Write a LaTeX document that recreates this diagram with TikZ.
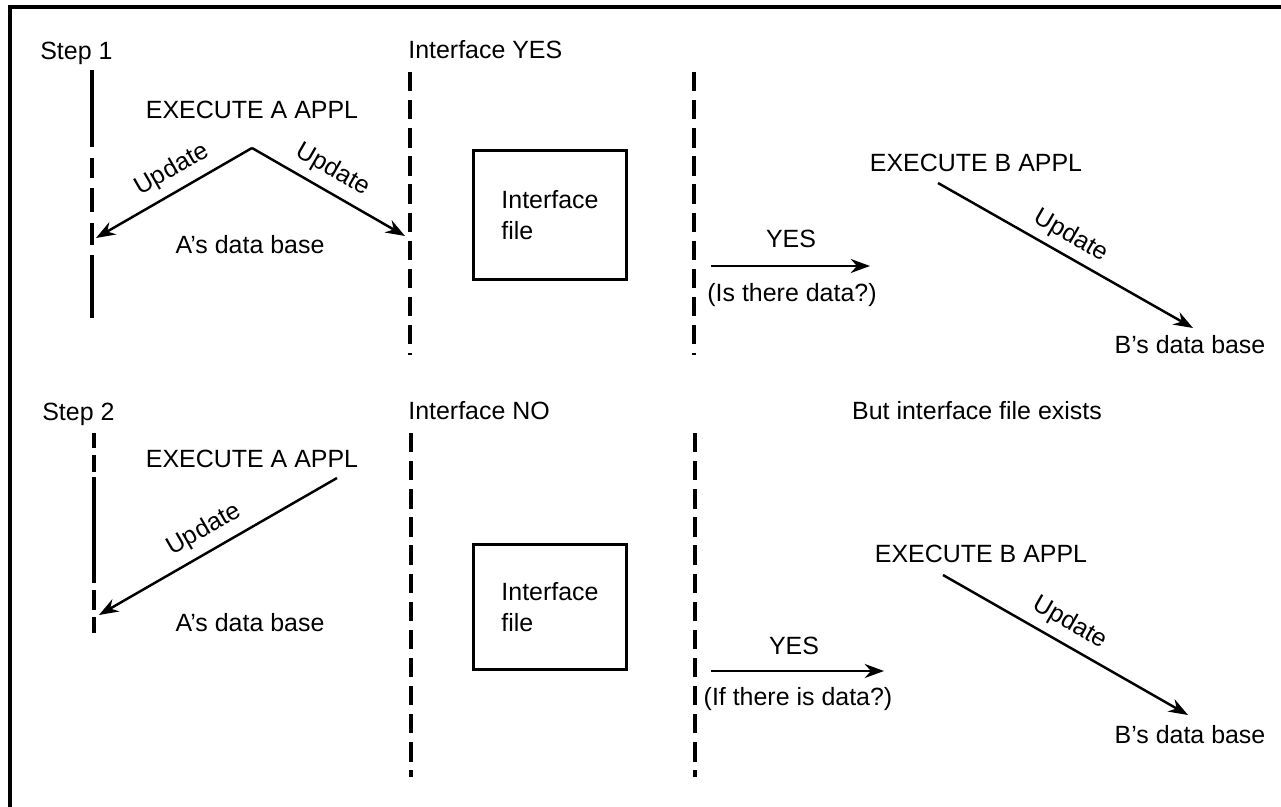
\documentclass[tikz,border=0pt]{standalone}
\usepackage{fontspec}
\setmainfont{Liberation Sans}
\usetikzlibrary{arrows.meta}

\tikzset{
  lbl/.style={inner sep=0pt, font=\fontsize{14.2}{17.6}\selectfont},
  divider/.style={line width=1.9pt, dash pattern=on 11pt off 5pt},
  stepline/.style={line width=1.9pt},
  flow/.style={line width=1.4pt, -{Stealth[length=11pt,width=8pt]}},
  filebox/.style={draw, line width=1.7pt, minimum width=87pt, minimum height=73pt, align=left},
}

\begin{document}
\begin{tikzpicture}[x=0.02cm, y=-0.02cm]
        \useasboundingbox (0,0) rectangle (1281,807);
        \draw [line width=2pt] (1281,7) -- (10,7) -- (10,807);

        % step 1
        \node [lbl, anchor=base west] (step1) at (40,60) {Step 1};
        \foreach \ya/\yb in {70/147, 158/178, 188/212, 223/245, 255/318}
          \draw [stepline] (92,\ya) -- (92,\yb);
        \node [lbl, anchor=base] (exeA1) at (252,119) {EXECUTE A APPL};
        \coordinate (apexA1) at (252,148);
        \coordinate (hitL1) at (96,238);
        \coordinate (hitR1) at (405,236);
        \draw [flow] (apexA1) -- (hitL1);
        \draw [flow] (apexA1) -- (hitR1);
        \node [lbl, rotate=30] (updL1) at (172,170) {Update};
        \node [lbl, rotate=-30] (updR1) at (333,170) {Update};
        \node [lbl, anchor=base] (dbA1) at (250,254) {A’s data base};

        \node [lbl, anchor=base west] (ifyes) at (408,59) {Interface YES};
        \draw [divider] (410,72) -- (410,355);
        \node [lbl, filebox] (ifile1) at (550,215) {Interface\\file};
        \draw [divider] (694,72) -- (694,355);

        \coordinate (yesA1) at (711,266);
        \coordinate (yesB1) at (870,266);
        \draw [flow] (yesA1) -- (yesB1);
        \node [lbl, anchor=base] (yes1) at (791,248) {YES};
        \node [lbl, anchor=base] (ask1) at (792,302) {(Is there data?)};

        \node [lbl, anchor=base] (exeB1) at (976,172) {EXECUTE B APPL};
        \coordinate (fromB1) at (938,183);
        \coordinate (toB1) at (1193,328);
        \draw [flow] (fromB1) -- (toB1);
        \node [lbl, rotate=-30] (updB1) at (1071,236) {Update};
        \node [lbl, anchor=base] (dbB1) at (1190,354) {B’s data base};

        % step 2
        \node [lbl, anchor=base west] (step2) at (42,420) {Step 2};
        \foreach \ya/\yb in {433/448, 455/472, 477/583, 590/610, 617/633}
          \draw [stepline] (94,\ya) -- (94,\yb);
        \node [lbl, anchor=base] (exeA2) at (252,467) {EXECUTE A APPL};
        \coordinate (fromA2) at (337,478);
        \coordinate (hitL2) at (99,615);
        \draw [flow] (fromA2) -- (hitL2);
        \node [lbl, rotate=30] (updL2) at (204,530) {Update};
        \node [lbl, anchor=base] (dbA2) at (250,631) {A’s data base};

        \node [lbl, anchor=base west] (ifno) at (408,419) {Interface NO};
        \draw [divider] (411,433) -- (411,777);
        \node [lbl, filebox, minimum height=71pt] (ifile2) at (550,607) {Interface\\file};
        \draw [divider] (695,433) -- (695,777);
        \node [lbl, anchor=base] (exists) at (977,419) {But interface file exists};

        \coordinate (yesA2) at (711,671);
        \coordinate (yesB2) at (884,671);
        \draw [flow] (yesA2) -- (yesB2);
        \node [lbl, anchor=base] (yes2) at (794,654) {YES};
        \node [lbl, anchor=base] (ask2) at (798,705) {(If there is data?)};

        \node [lbl, anchor=base] (exeB2) at (981,562) {EXECUTE B APPL};
        \coordinate (fromB2) at (943,575);
        \coordinate (toB2) at (1188,715);
        \draw [flow] (fromB2) -- (toB2);
        \node [lbl, rotate=-30] (updB2) at (1070,623) {Update};
        \node [lbl, anchor=base] (dbB2) at (1190,743) {B’s data base};
      \end{tikzpicture}
\end{document}
